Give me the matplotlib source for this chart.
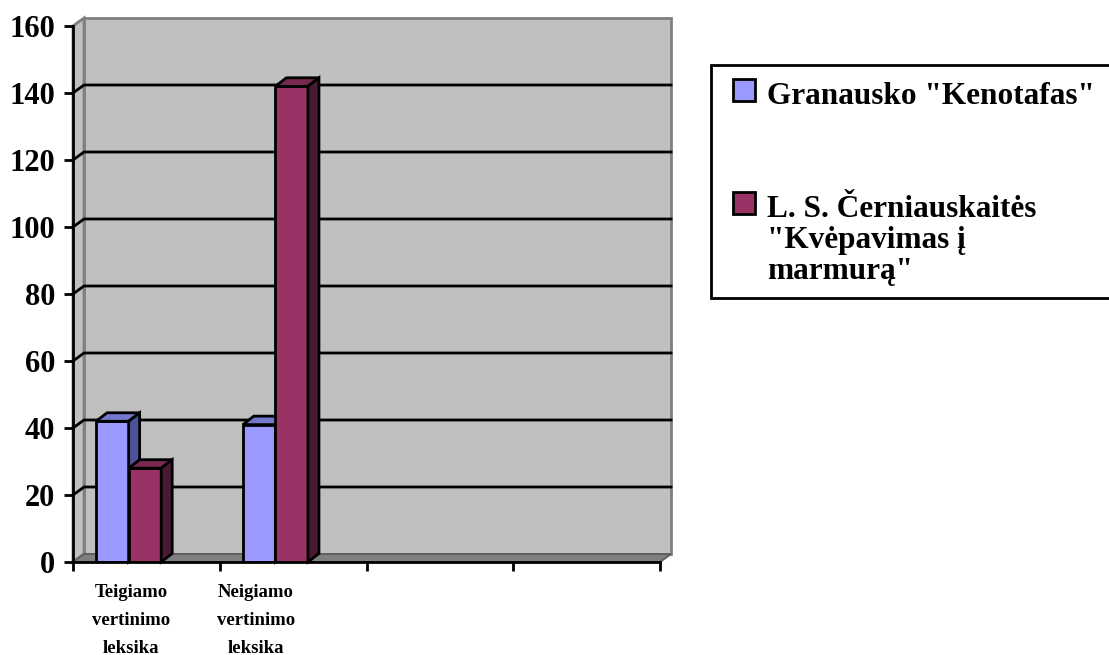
import matplotlib
matplotlib.use("Agg")
import matplotlib.pyplot as plt
from matplotlib.patches import Polygon, Rectangle

plt.rcParams['font.family'] = ['Liberation Serif', 'DejaVu Serif']
plt.rcParams['font.weight'] = 'bold'

categories = ["Teigiamo\nvertinimo\nleksika", "Neigiamo\nvertinimo\nleksika", "", ""]
series_names = ['Granausko "Kenotafas"',
                'L. S. Černiauskaitės\n"Kvėpavimas į\nmarmurą"']
kenotafas = [42, 41]
marmura = [28, 142]
yticks = [0, 20, 40, 60, 80, 100, 120, 140, 160]

front_colors = ["#9999FF", "#993366"]
top_colors = ["#7478CC", "#7A2952"]
side_colors = ["#4D5199", "#4A1A33"]

W, H = 1109, 655
fig = plt.figure(figsize=(W / 100, H / 100), dpi=100)
fig.patch.set_facecolor("white")

# front plane of the plot area in pixels
x0, x1, y0, y1 = 73, 660, 562, 26
ax = fig.add_axes([x0 / W, 1 - y0 / H, (x1 - x0) / W, (y0 - y1) / H])
n_cat = len(categories)
ymax = yticks[-1]
ax.set_xlim(0, n_cat)
ax.set_ylim(0, ymax)

ux = n_cat / (x1 - x0)        # data units per pixel
uy = ymax / (y0 - y1)
wdx, wdy = 11 * ux, 8 * uy    # depth of the walls
bdx, bdy = 11 * ux, 8.5 * uy  # depth of the columns

gray = "#808080"
wall = "#C0C0C0"
lw = 2.0
kw = dict(clip_on=False)

# back wall, side wall and floor
ax.add_patch(Polygon([(wdx, wdy), (n_cat + wdx, wdy), (n_cat + wdx, ymax + wdy), (wdx, ymax + wdy)],
                     closed=True, fc=wall, ec=gray, lw=lw, zorder=0, **kw))
ax.add_patch(Polygon([(0, 0), (wdx, wdy), (wdx, ymax + wdy), (0, ymax)],
                     closed=True, fc=wall, ec=gray, lw=lw, zorder=0, **kw))
ax.add_patch(Polygon([(0, 0), (n_cat, 0), (n_cat + wdx, wdy), (wdx, wdy)],
                     closed=True, fc=gray, ec="#606060", lw=1.4, zorder=0.5, **kw))

# gridlines on the walls
for v in yticks[1:-1]:
    ax.plot([0, wdx, n_cat + wdx], [v, v + wdy, v + wdy], color="black", lw=lw, zorder=1, **kw)

# columns with a top and a side face
bar_w = 0.222
start = 0.157
for s, vals in enumerate([kenotafas, marmura]):
    xs = [i + start + s * bar_w for i in range(len(vals))]
    for x, v in zip(xs, vals):
        ax.bar(x, v, width=bar_w, align="edge", color=front_colors[s], edgecolor="black",
               lw=lw, zorder=3)
        ax.add_patch(Polygon([(x, v), (x + bar_w, v), (x + bar_w + bdx, v + bdy), (x + bdx, v + bdy)],
                             closed=True, fc=top_colors[s], ec="black", lw=lw, zorder=3, **kw))
        ax.add_patch(Polygon([(x + bar_w, 0), (x + bar_w + bdx, bdy), (x + bar_w + bdx, v + bdy), (x + bar_w, v)],
                             closed=True, fc=side_colors[s], ec="black", lw=lw, zorder=3, **kw))

# axes
for side in ["top", "right"]:
    ax.spines[side].set_visible(False)
for side in ["left", "bottom"]:
    ax.spines[side].set_linewidth(lw)
    ax.spines[side].set_zorder(4)
ax.set_facecolor("none")
ax.set_yticks(yticks)
ax.set_yticklabels([str(v) for v in yticks], fontsize=22, fontweight="bold")
ax.set_xticks(range(n_cat + 1))
ax.set_xticklabels([])
ax.tick_params(axis="both", direction="out", length=6.5, width=lw, pad=6.5)

label_x = [0.395, 1.247]
for lx, name in zip(label_x, categories):
    ax.text(lx, -6.5, name, ha="center", va="top", fontsize=13.5, fontweight="bold",
            linespacing=1.85, **kw)

# legend box
fig.patches.append(Rectangle((711 / W, 1 - 298 / H), 420 / W, 233 / H, transform=fig.transFigure,
                             fc="white", ec="black", lw=lw, figure=fig))
marker_y = [79, 192]
text_y = [82, 195]
for s, name in enumerate(series_names):
    fig.patches.append(Rectangle((733 / W, 1 - (marker_y[s] + 22) / H), 22 / W, 22 / H,
                                 transform=fig.transFigure, fc=front_colors[s], ec="black",
                                 lw=lw, figure=fig))
    fig.text(767 / W, 1 - text_y[s] / H, name, ha="left", va="top", fontsize=22.5,
             fontweight="bold", linespacing=1.1)

fig.savefig("out.png", dpi=100)
